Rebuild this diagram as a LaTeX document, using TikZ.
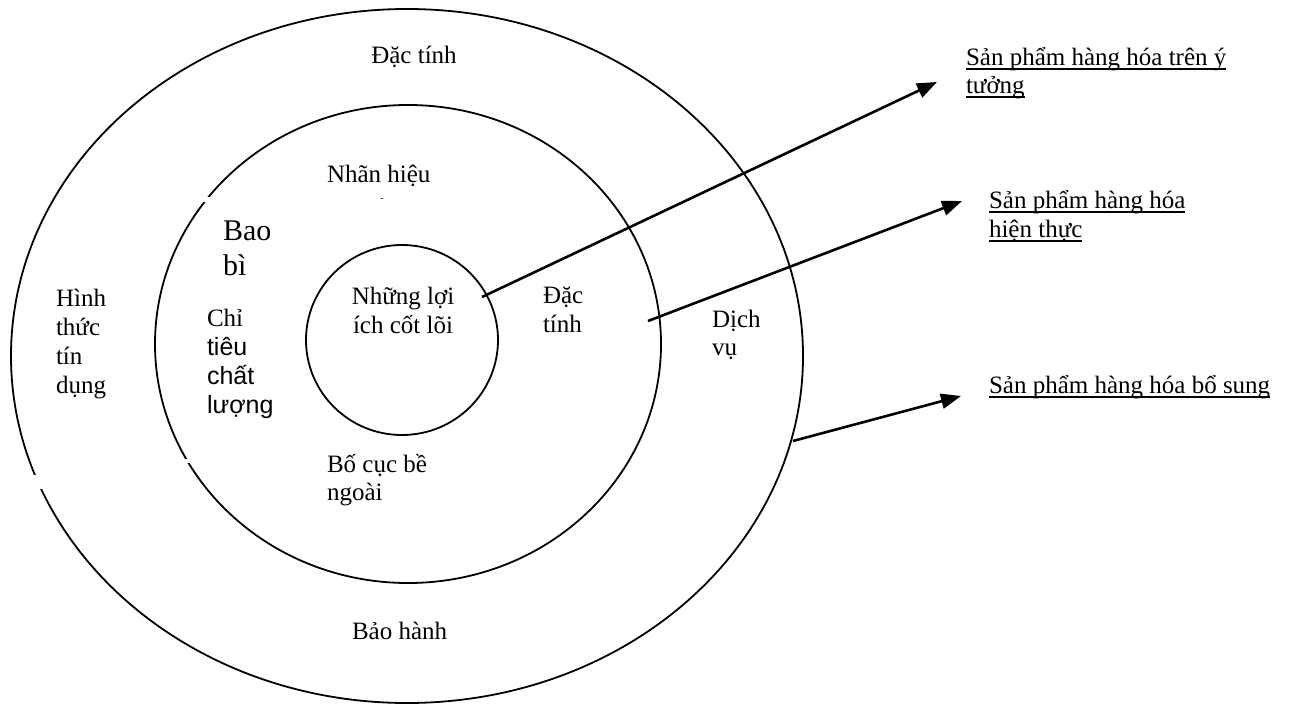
\documentclass[tikz,border=0pt]{standalone}
\usepackage{fontspec}
\setmainfont{Liberation Serif}
\newfontfamily\sansvn{Liberation Sans}
\usetikzlibrary{shapes.geometric,arrows.meta}
% underline drawn through the descenders, as a word processor does
\newcommand\ulword[1]{\setbox0\hbox{#1}\rlap{\rule[-5pt]{\wd0}{1.6pt}}\box0}

\begin{document}
\begin{tikzpicture}[x=1pt,y=-1pt,
  ring/.style={draw, ellipse, line width=1.8pt, inner sep=0pt, outer sep=0pt},
  % multi-line labels are placed by the baseline of their last line
  lbl/.style={anchor=base west, inner sep=0pt, outer sep=0pt, align=left,
              font=\fontsize{25}{29}\selectfont},
  clbl/.style={lbl, anchor=base, align=center},
  pointer/.style={line width=2.6pt, -{Triangle[length=20pt,width=15pt]}},
  gap/.style={fill=white, draw=none}]
\useasboundingbox (0,0) rectangle (1292,704);

% the three product levels
\node[ring, minimum width=792pt, minimum height=694pt] (outer) at (407,356) {};
\node[ring, minimum width=506pt, minimum height=478pt] (middle) at (408,344) {};
\node[ring, minimum width=192pt, minimum height=190pt] (core) at (402,340) {};

% small breaks in the rings
\fill[gap] (28,475) rectangle (48,489);
\fill[gap] (199,197) rectangle (212,202);
\fill[gap] (181,459) rectangle (194,463);

% outer ring
\node[clbl] (ot) at (414,63) {Đặc tính};
\node[lbl] (ol) at (56,393) {Hình\\thức\\tín\\dụng};
\node[lbl, font=\fontsize{25}{28}\selectfont] (or) at (712,355) {Dịch\\vụ};
\node[lbl] (ob) at (352,639) {Bảo hành};

% middle ring
\node[lbl] (mt) at (327,182) {Nhãn hiệu};
\node[anchor=base, inner sep=0pt, font=\fontsize{10}{12}\selectfont] (md) at (382,201) {-};
\node[lbl, font=\fontsize{30}{35}\selectfont] (mp) at (223,275) {Bao\\bì};
\node[lbl, font=\fontsize{25}{28.7}\selectfont] (mq) at (207,413)
  {Chỉ\\{\sansvn tiêu}\\{\sansvn chất}\\{\sansvn lượng}};
\node[lbl] (mr) at (543,332) {Đặc\\tính};
\node[lbl, font=\fontsize{25}{28}\selectfont] (mb) at (327,500) {Bố cục bề\\ngoài};

% core
\node[clbl] (cc) at (403,333) {Những lợi\\ích cốt lõi};

% level names
\node[lbl, font=\fontsize{25}{28}\selectfont] (l1) at (966,93)
  {\ulword{Sản phẩm hàng hóa trên ý}\\\ulword{tưởng}};
\node[lbl] (l2) at (989,237) {\ulword{Sản phẩm hàng hóa}\\\ulword{hiện thực}};
\node[lbl] (l3) at (989,393) {\ulword{Sản phẩm hàng hóa bổ sung}};

% pointers from each level to its name
\coordinate (s1) at (482,297);
\coordinate (t1) at (937,82);
\coordinate (s2) at (648,321);
\coordinate (t2) at (962,201);
\coordinate (s3) at (793,441);
\coordinate (t3) at (961,396);
\draw[pointer] (s1) -- (t1);
\draw[pointer] (s2) -- (t2);
\draw[pointer] (s3) -- (t3);
\end{tikzpicture}
\end{document}
